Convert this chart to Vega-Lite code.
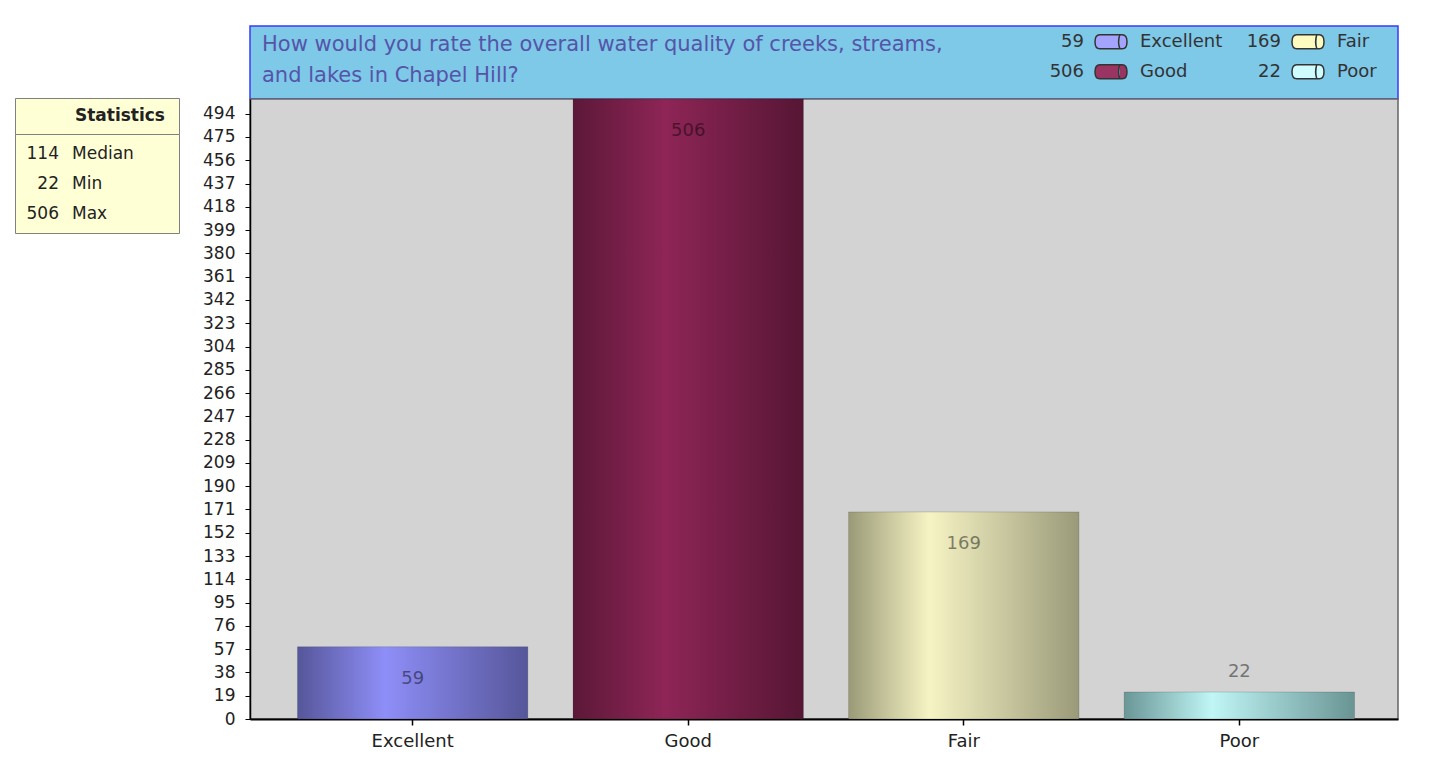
{
  "$schema": "https://vega.github.io/schema/vega-lite/v6.json",
  "background": "white",
  "padding": {"left": 14, "top": 25, "right": 31, "bottom": 30},
  "spacing": 21,
  "config": {
    "font": "DejaVu Sans",
    "view": {"stroke": null},
    "axis": {
      "labelFont": "DejaVu Sans",
      "labelColor": "#222222",
      "domainColor": "#000000",
      "tickColor": "#000000",
      "title": null,
      "grid": false
    }
  },
  "datasets": {
    "ratings": [
      {"rating": "Excellent", "count": 59, "col": "c1", "row": "r1"},
      {"rating": "Good", "count": 506, "col": "c1", "row": "r2"},
      {"rating": "Fair", "count": 169, "col": "c2", "row": "r1"},
      {"rating": "Poor", "count": 22, "col": "c2", "row": "r2"}
    ],
    "stats": [
      {"stat": "Median", "value": 114},
      {"stat": "Min", "value": 22},
      {"stat": "Max", "value": 506}
    ]
  },
  "hconcat": [
    {
      "spacing": 0,
      "bounds": "flush",
      "vconcat": [
        {
          "width": 164,
          "height": 72,
          "data": {"values": [{}]},
          "mark": {"type": "text", "text": ""},
          "encoding": {}
        },
        {
          "width": 164,
          "height": 36,
          "view": {"fill": "#ffffd6", "stroke": "#808080"},
          "data": {"values": [{"t": "Statistics"}]},
          "mark": {"type": "text", "align": "right", "dx": 68, "fontWeight": "bold", "fontSize": 17, "color": "#222222"},
          "encoding": {"text": {"field": "t"}}
        },
        {
          "width": 164,
          "height": 99,
          "view": {"fill": "#ffffd6", "stroke": "#808080"},
          "data": {"name": "stats"},
          "encoding": {
            "y": {"field": "stat", "type": "nominal", "sort": ["Median", "Min", "Max"], "scale": {"type": "point", "padding": 0.65}, "axis": null}
          },
          "layer": [
            {
              "mark": {"type": "text", "align": "right", "dx": -38, "fontSize": 17, "color": "#222222"},
              "encoding": {"text": {"field": "value"}}
            },
            {
              "mark": {"type": "text", "align": "left", "dx": -25, "fontSize": 17, "color": "#222222"},
              "encoding": {"text": {"field": "stat"}}
            }
          ]
        }
      ]
    },
    {
      "spacing": 0,
      "bounds": "flush",
      "vconcat": [
        {
          "width": 1148,
          "height": 73,
          "view": {"fill": "#7ec8e8", "stroke": "#3a3af8", "strokeWidth": 1.5},
          "title": {
            "text": ["How would you rate the overall water quality of creeks, streams,", "and lakes in Chapel Hill?"],
            "anchor": "start",
            "orient": "top",
            "offset": -60,
            "dx": 12,
            "fontSize": 21,
            "fontWeight": "normal",
            "color": "#5555a8",
            "lineHeight": 31
          },
          "data": {"name": "ratings"},
          "encoding": {
            "x": {"field": "col", "type": "ordinal", "scale": {"type": "point", "range": [861, 1058], "padding": 0}, "axis": null},
            "y": {"field": "row", "type": "ordinal", "scale": {"type": "point", "padding": 0.717, "align": 0.365}, "axis": null}
          },
          "layer": [
            {
              "mark": {
                "type": "point",
                "shape": "M-0.7,-0.44 L0.7,-0.44 Q1,-0.44 1,0 Q1,0.44 0.7,0.44 L-0.7,0.44 Q-1,0.44 -1,0 Q-1,-0.44 -0.7,-0.44 Z M0.55,-0.44 Q0.4,0 0.55,0.44",
                "size": 1024,
                "filled": true,
                "opacity": 1,
                "stroke": "#333333",
                "strokeWidth": 1.5
              },
              "encoding": {
                "fill": {
                  "field": "rating",
                  "type": "nominal",
                  "scale": {"domain": ["Excellent", "Good", "Fair", "Poor"], "range": ["#a4a4ff", "#9a3563", "#fffbc0", "#cffcff"]},
                  "legend": null
                }
              }
            },
            {
              "mark": {"type": "text", "align": "right", "dx": -27, "fontSize": 18, "color": "#333333"},
              "encoding": {"text": {"field": "count"}}
            },
            {
              "mark": {"type": "text", "align": "left", "dx": 29, "fontSize": 18, "color": "#333333"},
              "encoding": {"text": {"field": "rating"}}
            }
          ]
        },
        {
          "width": 1148,
          "height": 620,
          "view": {"fill": "#d3d3d3", "stroke": "#666666", "strokeWidth": 1.5},
          "data": {"name": "ratings"},
          "encoding": {
            "x": {
              "field": "rating",
              "type": "nominal",
              "sort": ["Excellent", "Good", "Fair", "Poor"],
              "scale": {"paddingInner": 0.164, "paddingOuter": 0.165, "align": 0.522},
              "axis": {"labelAngle": 0, "labelFontSize": 18, "labelPadding": 7, "domainWidth": 2, "tickSize": 6, "tickWidth": 1.5}
            },
            "y": {
              "field": "count",
              "type": "quantitative",
              "scale": {"domain": [0, 506], "nice": false},
              "axis": {
                "values": [0, 19, 38, 57, 76, 95, 114, 133, 152, 171, 190, 209, 228, 247, 266, 285, 304, 323, 342, 361, 380, 399, 418, 437, 456, 475, 494],
                "labelFontSize": 17,
                "labelPadding": 10,
                "tickSize": 5,
                "domainWidth": 1.5,
                "labelOverlap": false
              }
            }
          },
          "layer": [
            {
              "mark": {"type": "bar", "stroke": "#000000", "strokeOpacity": 0.15, "strokeWidth": 1},
              "encoding": {
                "fill": {
                  "condition": [
                    {"test": "datum.rating === 'Excellent'", "value": {"gradient": "linear", "x1": 0, "y1": 0, "x2": 1, "y2": 0, "stops": [{"offset": 0, "color": "#56569a"}, {"offset": 0.38, "color": "#8e8ef8"}, {"offset": 1, "color": "#56569a"}]}},
                    {"test": "datum.rating === 'Good'", "value": {"gradient": "linear", "x1": 0, "y1": 0, "x2": 1, "y2": 0, "stops": [{"offset": 0, "color": "#5c1838"}, {"offset": 0.4, "color": "#8e2556"}, {"offset": 1, "color": "#561634"}]}},
                    {"test": "datum.rating === 'Fair'", "value": {"gradient": "linear", "x1": 0, "y1": 0, "x2": 1, "y2": 0, "stops": [{"offset": 0, "color": "#9a9a78"}, {"offset": 0.35, "color": "#f6f4c4"}, {"offset": 1, "color": "#9a9a7a"}]}}
                  ],
                  "value": {"gradient": "linear", "x1": 0, "y1": 0, "x2": 1, "y2": 0, "stops": [{"offset": 0, "color": "#6a9696"}, {"offset": 0.38, "color": "#c0f6f6"}, {"offset": 1, "color": "#6a9494"}]}
                }
              }
            },
            {
              "transform": [{"filter": "datum.count >= 50"}],
              "mark": {"type": "text", "dy": 32, "fontSize": 18, "color": "#000000", "opacity": 0.45},
              "encoding": {"text": {"field": "count"}}
            },
            {
              "transform": [{"filter": "datum.count < 50"}],
              "mark": {"type": "text", "dy": -20, "fontSize": 18, "color": "#000000", "opacity": 0.45},
              "encoding": {"text": {"field": "count"}}
            }
          ]
        }
      ]
    }
  ]
}
